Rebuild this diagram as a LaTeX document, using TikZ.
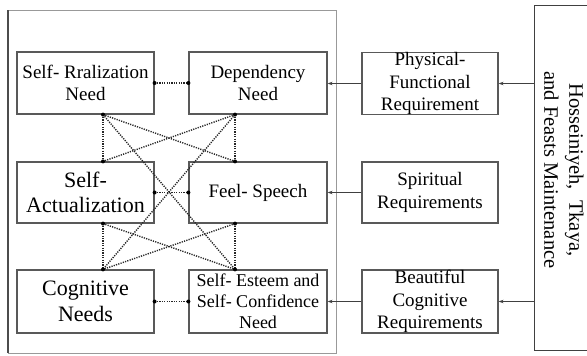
\documentclass[tikz,border=0pt]{standalone}
\usepackage{fontspec}
\setmainfont{Liberation Serif}
\usetikzlibrary{arrows.meta,calc}
\begin{document}
\begin{tikzpicture}[x=1pt,y=-1pt,
  box/.style={draw=black!65,line width=1.2pt,align=center,inner sep=0pt,
    font=\fontsize{19}{22.5}\selectfont},
  bigtxt/.style={font=\fontsize{22}{25.5}\selectfont},
  smalltxt/.style={font=\fontsize{18}{21}\selectfont},
  dotl/.style={dash pattern=on 1.2pt off 1.2pt,line width=1.4pt,black!85},
  arr/.style={-{Stealth[length=5pt,width=3.5pt]},line width=0.9pt,black!75},
  endpt/.style={fill=black,draw=none,circle,minimum size=4pt,inner sep=0pt}]
\useasboundingbox (0,0) rectangle (587,356);
% outer frame
\draw[black!40,line width=1pt] (8,10) rectangle (336,353);
\draw[black!70,line width=1.5pt] (8,10) -- (8,353);
% right frame
\node[draw=black!75,line width=1pt,minimum width=60pt,minimum height=345pt,anchor=north west,inner sep=0pt] (hb) at (534,5) {};
\node[rotate=-90,align=center,font=\fontsize{20.5}{25}\selectfont] (ht) at (564,170)
  {Hosseiniyeh,\ \ Tkaya,\\and Feasts Maintenance};
% boxes
\node[box,minimum width=137pt,minimum height=62pt] (srn) at (85.5,83) {Self- Rralization\\Need};
\node[box,minimum width=138pt,minimum height=62pt] (dn) at (258,83) {Dependency\\Need};
\node[box,minimum width=136pt,minimum height=62pt] (pf) at (430,83.5) {Physical-\\Functional\\Requirement};
\node[box,bigtxt,minimum width=137pt,minimum height=61pt] (sa) at (85.5,192.5) {Self-\\Actualization};
\node[box,minimum width=138pt,minimum height=61pt] (fs) at (258,192.5) {Feel- Speech};
\node[box,minimum width=136pt,minimum height=61pt] (sr) at (430,192.5) {Spiritual\\Requirements};
\node[box,bigtxt,minimum width=137pt,minimum height=63pt] (cn) at (85.5,301.5) {Cognitive\\Needs};
\node[box,smalltxt,minimum width=138pt,minimum height=63pt] (se) at (258,301.5) {Self- Esteem and\\Self- Confidence\\Need};
\node[box,minimum width=136pt,minimum height=63pt] (bc) at (430,301.5) {Beautiful\\Cognitive\\Requirements};
% arrows
\draw[arr] (hb.west |- pf.east) -- (pf.east);
\draw[arr] (pf.west) -- (dn.east |- pf.west);
\draw[arr] (sr.west) -- (fs.east |- sr.west);
\draw[arr] (hb.west |- bc.east) -- (bc.east);
\draw[arr] (bc.west) -- (se.east |- bc.west);
% connection points
\coordinate (A) at ([xshift=17.5pt]srn.south);
\coordinate (C) at ([xshift=17.5pt]sa.north);
\coordinate (E) at ([xshift=17.5pt]sa.south);
\coordinate (G) at ([xshift=17.5pt]cn.north);
\coordinate (B) at ([xshift=-23pt]dn.south);
\coordinate (D) at ([xshift=-23pt]fs.north);
\coordinate (F) at ([xshift=-23pt]fs.south);
\coordinate (H) at ([xshift=-23pt]se.north);
% dotted links
\draw[dotl] (srn.east) -- (dn.west);
\draw[dotl] (sa.east) -- (fs.west);
\draw[dotl] (cn.east) -- (se.west);
\draw[dotl] (A) -- (C);
\draw[dotl] (B) -- (D);
\draw[dotl] (A) -- (D);
\draw[dotl] (B) -- (C);
\draw[dotl] (A) -- (H);
\draw[dotl] (B) -- (G);
\draw[dotl] (E) -- (G);
\draw[dotl] (F) -- (H);
\draw[dotl] (E) -- (H);
\draw[dotl] (F) -- (G);
% end dots
\foreach \p in {A,B,C,D,E,F,G,H}{\node[endpt] at (\p) {};}
\foreach \p in {srn.east,dn.west,sa.east,fs.west,cn.east,se.west}{\node[endpt] at (\p) {};}
\end{tikzpicture}
\end{document}
